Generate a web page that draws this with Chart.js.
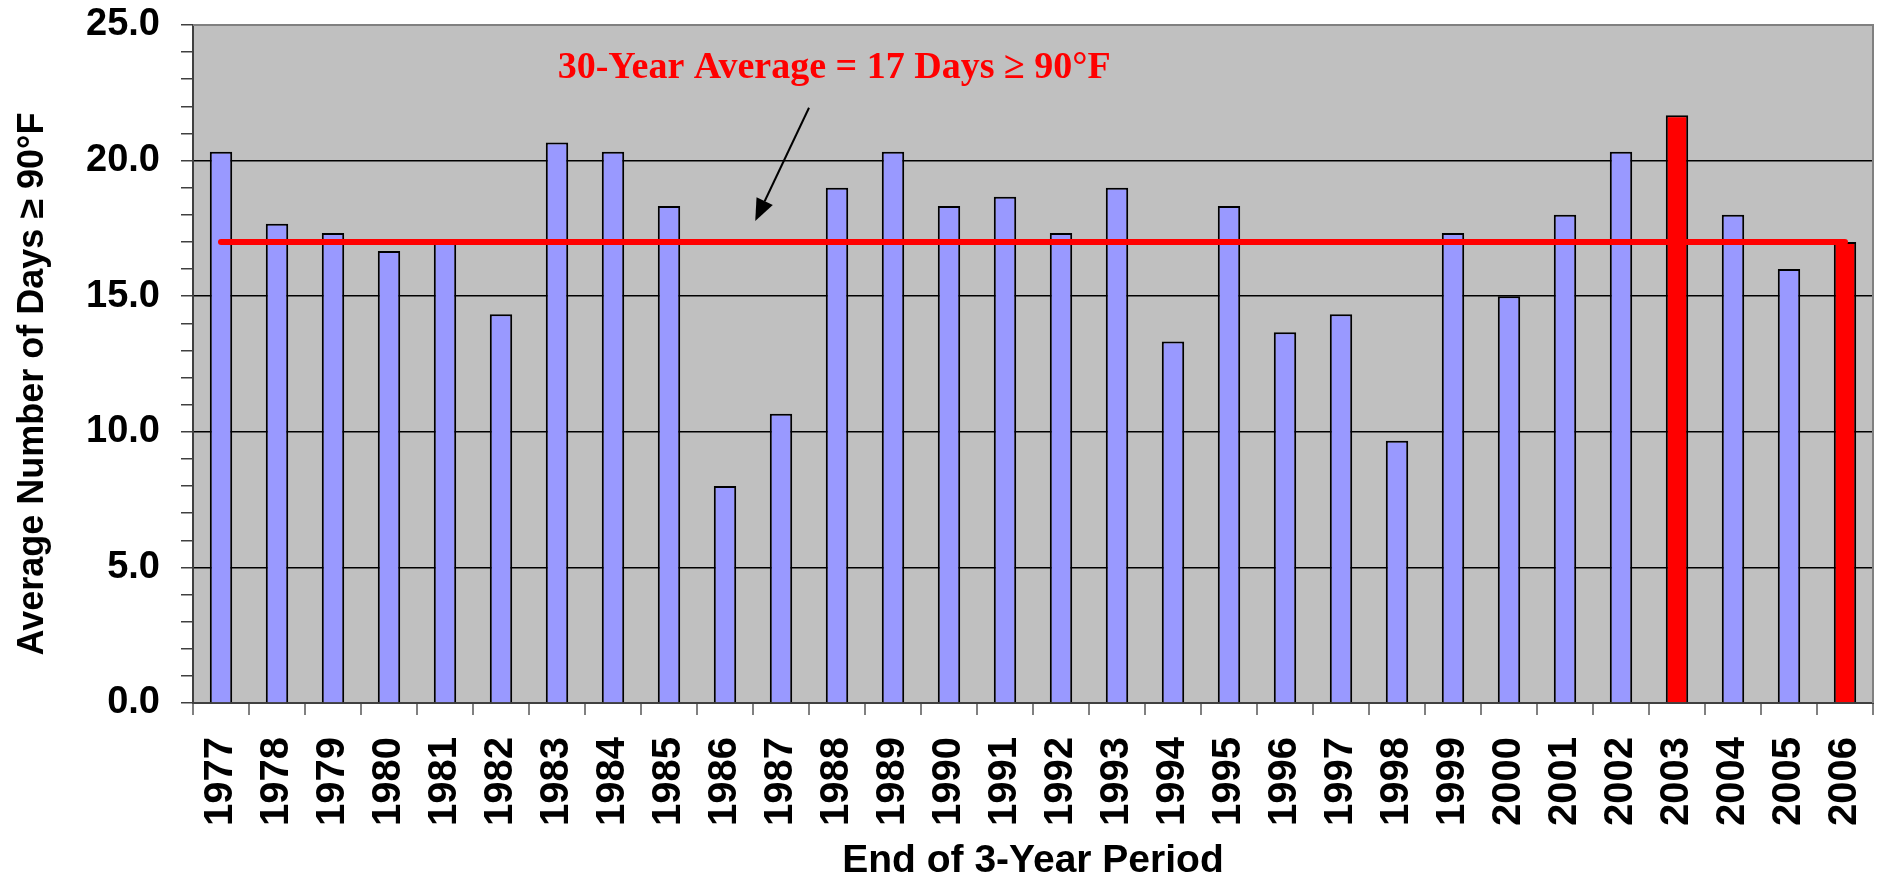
<!DOCTYPE html>
<html>
<head>
<meta charset="utf-8">
<title>Average Number of Days ≥ 90°F</title>
<script src="https://cdn.jsdelivr.net/npm/chart.js@4.4.1/dist/chart.umd.min.js"></script>
<style>
   html, body { margin: 0; padding: 0; background: #ffffff; }
   #wrap { width: 1886px; height: 879px; position: relative; }
</style>
</head>
<body>
<div id="wrap"><canvas id="daysChart"></canvas></div>
<script>
// Average days >= 90F per 3-year period

const years = [
   "1977", "1978", "1979", "1980", "1981", "1982", "1983", "1984", "1985", "1986",
   "1987", "1988", "1989", "1990", "1991", "1992", "1993", "1994", "1995", "1996",
   "1997", "1998", "1999", "2000", "2001", "2002", "2003", "2004", "2005", "2006",
];
const avgDays = [
   20.33, 17.67, 17.33, 16.67, 17.0, 14.33, 20.67, 20.33, 18.33, 8.0,
   10.67, 19.0, 20.33, 18.33, 18.67, 17.33, 19.0, 13.33, 18.33, 13.67,
   14.33, 9.67, 17.33, 15.0, 18.0, 20.33, 21.67, 18.0, 16.0, 17.0,
];
const highlightYears = ["2003", "2006"];
const thirtyYearAverage = 17;
const yTicks = [0, 5, 10, 15, 20, 25];

const noteText = "30-Year Average = 17 Days \u2265 90\u00B0F";
const xTitle = "End of 3-Year Period";
const yTitle = "Average Number of Days \u2265 90\u00B0F";

// note + arrow placed in data units (category index, days)
const notePos = { x: 10.95, y: 23.4 };
const arrowFrom = { x: 10.5, y: 21.95 };
const arrowTo = { x: 9.54, y: 17.77 };

const barColors = years.map((yr) => (highlightYears.includes(yr) ? "#ff0000" : "#9999ff"));

const plotFrame = {
   id: "plotFrame",
   beforeDraw(chart) {
      const a = chart.chartArea;
      const ctx = chart.ctx;
      ctx.save();
      ctx.fillStyle = "#c0c0c0";
      ctx.fillRect(a.left, a.top, a.right - a.left, a.bottom - a.top);
      ctx.restore();
   },
   afterDraw(chart) {
      const a = chart.chartArea;
      const ctx = chart.ctx;
      ctx.save();
      ctx.strokeStyle = "#808080";
      ctx.lineWidth = 2;
      ctx.beginPath();
      ctx.moveTo(a.left, a.top);
      ctx.lineTo(a.right, a.top);
      ctx.lineTo(a.right, a.bottom);
      ctx.stroke();

      // axis titles
      ctx.fillStyle = "#000000";
      ctx.font = "bold 39px 'Liberation Sans', Arial, sans-serif";
      ctx.textAlign = "center";
      ctx.textBaseline = "middle";
      ctx.fillText(xTitle, (a.left + a.right) / 2, a.bottom + 158);

      ctx.font = "bold 36px 'Liberation Sans', Arial, sans-serif";
      ctx.translate(33, (a.top + a.bottom) / 2 + 20);
      ctx.rotate(-Math.PI / 2);
      ctx.fillText(yTitle, 0, 0);
      ctx.restore();
   },
};

const averageNote = {
   id: "averageNote",
   afterDatasetsDraw(chart) {
      const xs = chart.scales.x;
      const ys = chart.scales.y;
      const ctx = chart.ctx;

      ctx.save();
      ctx.fillStyle = "#ff0000";
      ctx.font = "bold 38px 'Liberation Serif', 'Times New Roman', serif";
      ctx.textAlign = "center";
      ctx.textBaseline = "middle";
      ctx.fillText(noteText, xs.getPixelForValue(notePos.x), ys.getPixelForValue(notePos.y));

      const x1 = xs.getPixelForValue(arrowFrom.x);
      const y1 = ys.getPixelForValue(arrowFrom.y);
      const x2 = xs.getPixelForValue(arrowTo.x);
      const y2 = ys.getPixelForValue(arrowTo.y);
      const ang = Math.atan2(y2 - y1, x2 - x1);
      const headLen = 22;
      const headHalf = 9;
      const bx = x2 - headLen * Math.cos(ang);
      const by = y2 - headLen * Math.sin(ang);

      ctx.strokeStyle = "#000000";
      ctx.lineWidth = 2;
      ctx.beginPath();
      ctx.moveTo(x1, y1);
      ctx.lineTo(bx, by);
      ctx.stroke();

      ctx.fillStyle = "#000000";
      ctx.beginPath();
      ctx.moveTo(x2, y2);
      ctx.lineTo(bx + headHalf * Math.sin(ang), by - headHalf * Math.cos(ang));
      ctx.lineTo(bx - headHalf * Math.sin(ang), by + headHalf * Math.cos(ang));
      ctx.closePath();
      ctx.fill();
      ctx.restore();
   },
};

function initChart() {
   const ctx = document.getElementById("daysChart").getContext("2d");
   Chart.defaults.font.family = "'Liberation Sans', Arial, sans-serif";
   Chart.defaults.color = "#000000";

   new Chart(ctx, {
      type: "bar",
      data: {
         labels: years,
         datasets: [
            {
               type: "line",
               label: "30-Year Average",
               data: years.map(() => thirtyYearAverage),
               borderColor: "#ff0000",
               borderWidth: 6,
               borderCapStyle: "round",
               pointRadius: 0,
               fill: false,
               order: 0,
            },
            {
               label: "Average Number of Days",
               data: avgDays,
               backgroundColor: barColors,
               borderColor: "#000000",
               borderWidth: 2,
               barPercentage: 0.4,
               categoryPercentage: 1.0,
               order: 1,
            },
         ],
      },
      options: {
         responsive: true,
         maintainAspectRatio: false,
         animation: false,
         layout: {
            padding: { top: 25, right: 13, left: 0, bottom: 0 },
         },
         plugins: {
            legend: { display: false },
            tooltip: { enabled: false },
         },
         scales: {
            x: {
               grid: {
                  offset: true,
                  drawOnChartArea: false,
                  tickLength: 12,
                  tickColor: "#808080",
                  lineWidth: 2,
               },
               border: { display: true, color: "#404040", width: 2 },
               ticks: {
                  autoSkip: false,
                  maxRotation: 90,
                  minRotation: 90,
                  padding: 22,
                  color: "#000000",
                  font: { size: 40, weight: "bold" },
               },
               afterFit(scale) {
                  scale.height = 176;
                  scale.paddingLeft = 0;
                  scale.paddingRight = 0;
               },
            },
            y: {
               min: 0,
               max: 25,
               ticks: {
                  stepSize: 1,
                  autoSkip: false,
                  padding: 21,
                  color: "#000000",
                  font: { size: 38, weight: "bold" },
                  callback: (value) => (yTicks.includes(value) ? value.toFixed(1) : ""),
               },
               grid: {
                  tickLength: 12,
                  tickColor: "#404040",
                  lineWidth: 1.5,
                  color: (c) => {
                     if (c.tick.value === 25) return "#808080";
                     return yTicks.includes(c.tick.value) ? "#000000" : "rgba(0,0,0,0)";
                  },
               },
               border: { display: true, color: "#404040", width: 2 },
               afterFit(scale) {
                  scale.width = 193;
                  scale.paddingTop = 0;
                  scale.paddingBottom = 0;
               },
            },
         },
      },
      plugins: [plotFrame, averageNote],
   });
}

document.addEventListener("DOMContentLoaded", function () {
   initChart();
});
</script>
</body>
</html>
